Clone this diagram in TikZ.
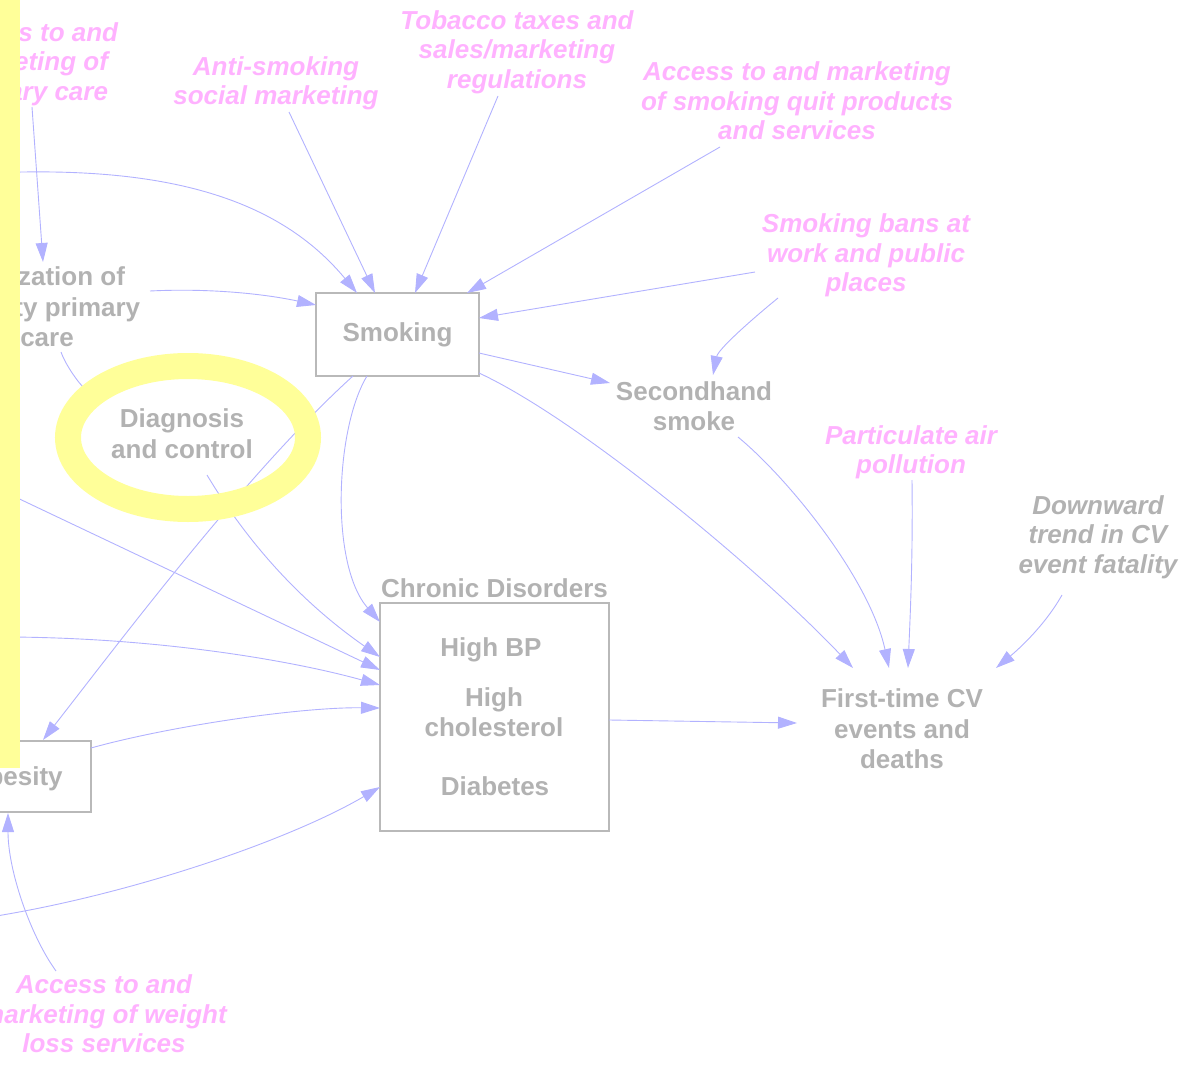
\documentclass[tikz,border=0pt]{standalone}
\usepackage{fontspec}
\setmainfont{Liberation Sans}
\usetikzlibrary{arrows.meta,calc}
\definecolor{levertext}{RGB}{255,178,255}
\definecolor{vartext}{RGB}{178,178,178}
\definecolor{linkcol}{RGB}{178,178,255}
\definecolor{hilite}{RGB}{255,255,153}
\definecolor{boxline}{RGB}{185,185,185}

\begin{document}
\begin{tikzpicture}[x=1pt,y=-1pt,
  lever/.style={font=\fontsize{26}{29.5}\selectfont\bfseries\itshape, text=levertext, align=center, inner sep=0pt},
  trendtxt/.style={font=\fontsize{26}{29.5}\selectfont\bfseries\itshape, text=vartext, align=center, inner sep=0pt},
  var/.style={font=\fontsize{26}{30.5}\selectfont\bfseries, text=vartext, align=center, inner sep=0pt},
  stock/.style={draw=boxline, line width=1.3pt, fill=white, inner sep=0pt},
  link/.style={draw=linkcol, line width=0.9pt, -{Triangle[length=19pt,width=12pt]}}]

\useasboundingbox (0,0) rectangle (1195,1081);
\clip (0,0) rectangle (1195,1081);

% policy levers
\node[lever] (accPC) at (30,64) {Access to and\\marketing of\\primary care};
\node[lever] (anti) at (276,83.5) {Anti-smoking\\social marketing};
\node[lever] (tob) at (517,52) {Tobacco taxes and\\sales/marketing\\regulations};
\node[lever] (accQ) at (797,101) {Access to and marketing\\of smoking quit products\\and services};
\node[lever] (bans) at (866,255.5) {Smoking bans at\\work and public\\places};
\node[lever] (part) at (911,452.5) {Particulate air\\pollution};
\node[lever] (accW) at (104,1014) {Access to and\\marketing of weight\\loss services};
\node[trendtxt] (down) at (1098,537) {Downward\\trend in CV\\event fatality};

% variables and stocks
\node[var] (util) at (47,307) {Utilization of\\quality primary\\care};
\node[stock, var, minimum width=163pt, minimum height=83pt] (smk) at (397.5,334.5) {Smoking};
\node[var] (second) at (694,406) {Secondhand\\smoke};
\node[var] (dgt) at (182,433.5) {Diagnosis\\and control};
\node[stock, minimum width=229pt, minimum height=228pt] (chron) at (494.5,717) {};
\node[var] (chronlbl) at (494.5,588) {Chronic Disorders};
\node[var] (bp) at (491,649.5) {High BP};
\node[var] (chol) at (494,712) {High\\cholesterol};
\node[var] (diab) at (495,786) {Diabetes};
\node[stock, minimum width=152pt, minimum height=71pt] (obes) at (15,776.5) {};
\node[var] (obeslbl) at (15,778.5) {Obesity};
\node[var] (first) at (902,729) {First-time CV\\events and\\deaths};

% sources lying beyond the left edge
\coordinate (offA) at (-10,173);
\coordinate (offB) at (-10,485);
\coordinate (offC) at (-10,637);
\coordinate (offD) at (-10,917);

% causal links
\draw[link] ($(accPC)+(2,43)$) -- ($(util)+(-4,-45)$);
\draw[link] (offA) .. controls +(180,-8) and +(-77,-93) .. ($(smk)+(-40.5,-41.5)$);
\draw[link] ($(anti)+(13,28.5)$) -- ($(smk)+(-22.5,-41.5)$);
\draw[link] ($(tob)+(-19,44)$) -- ($(smk)+(17.5,-41.5)$);
\draw[link] ($(accQ)+(-77,46)$) -- ($(smk)+(69.5,-41.5)$);
\draw[link] ($(bans)+(-111,16.5)$) -- ($(smk)+(81.5,-16.5)$);
\draw[link] ($(bans)+(-88,42.5)$) .. controls +(-33,27) and +(5,-25) .. ($(second)+(19,-31)$);
\draw[link] ($(util)+(103,-16)$) .. controls +(60,-3) and +(-51,-11) .. ($(smk)+(-81.5,-29.5)$);
\draw[link] ($(util)+(14,45)$) .. controls +(5,14) and +(-20,-15) .. ($(dgt)+(-82,-33.5)$);
\draw[link] ($(smk)+(-44.5,41.5)$) .. controls +(-105,95) and +(78,-100) .. ($(obes)+(28,-36.5)$);
\draw[link] ($(smk)+(-30.5,41.5)$) .. controls +(-32,53) and +(-50,-57) .. ($(chron)+(-114.5,-95)$);
\draw[link] ($(dgt)+(25,41.5)$) .. controls +(36,60) and +(-86,-60) .. ($(chron)+(-114.5,-60)$);
\draw[link] (offB) -- ($(chron)+(-114.5,-47)$);
\draw[link] (offC) .. controls +(160,-1) and +(-90,-25) .. ($(chron)+(-114.5,-32)$);
\draw[link] ($(obes)+(76,-28.5)$) .. controls +(79,-22) and +(-80,-1) .. ($(chron)+(-114.5,-9)$);
\draw[link] (offD) .. controls +(140,-22) and +(-90,53) .. ($(chron)+(-114.5,70)$);
\draw[link] ($(accW)+(-48,-43)$) .. controls +(-26,-36) and +(0,57) .. ($(obes)+(-7,36.5)$);
\draw[link] ($(smk)+(81.5,18.5)$) -- ($(second)+(-84,-23)$);
\draw[link] ($(smk)+(81.5,38.5)$) .. controls +(101,47) and +(-93,-98) .. ($(first)+(-49,-61)$);
\draw[link] ($(second)+(44,31)$) .. controls +(52,43) and +(-19,-88) .. ($(first)+(-13,-61)$);
\draw[link] ($(part)+(1,27.5)$) .. controls +(1,80) and +(2,-48) .. ($(first)+(6,-61)$);
\draw[link] ($(down)+(-36,58)$) .. controls +(-17,30) and +(24,-20) .. ($(first)+(94,-61)$);
\draw[link] ($(chron)+(114.5,3)$) -- ($(first)+(-105,-6)$);

% highlight ring and side bar
\draw[hilite, line width=26pt] ($(dgt)+(6,4)$) ellipse [x radius=120pt, y radius=71.5pt];
\fill[hilite] (0,0) rectangle (20,768);
\end{tikzpicture}
\end{document}
